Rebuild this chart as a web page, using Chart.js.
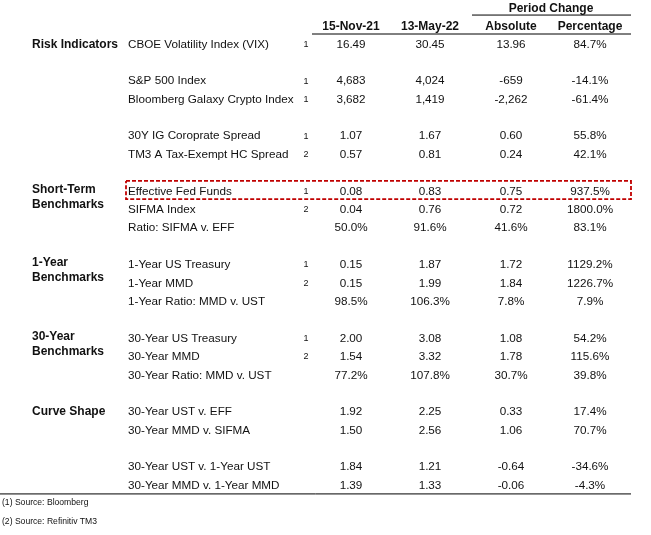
<!DOCTYPE html>
<html>
<head>
<meta charset="utf-8">
<script src="https://cdn.jsdelivr.net/npm/chart.js@4"></script>
<style>
  html, body { margin: 0; padding: 0; background: #fff; }
  canvas { display: block; }
</style>
</head>
<body>
<canvas id="c" width="651" height="535"></canvas>
<script>
// ---------- DATA ----------
const headers = ['15-Nov-21', '13-May-22', 'Absolute', 'Percentage'];
const superHeader = 'Period Change';
const groupLabels = [['Risk Indicators'], ['Short-Term', 'Benchmarks'], ['1-Year', 'Benchmarks'], ['30-Year', 'Benchmarks'], ['Curve Shape']];
const groupSlot = [0, 8, 12, 16, 20];
const metrics = [
  'CBOE Volatility Index (VIX)', 'S&P 500 Index', 'Bloomberg Galaxy Crypto Index',
  '30Y IG Coroprate Spread', 'TM3 A Tax-Exempt HC Spread',
  'Effective Fed Funds', 'SIFMA Index', 'Ratio: SIFMA v. EFF',
  '1-Year US Treasury', '1-Year MMD', '1-Year Ratio: MMD v. UST',
  '30-Year US Treasury', '30-Year MMD', '30-Year Ratio: MMD v. UST',
  '30-Year UST v. EFF', '30-Year MMD v. SIFMA',
  '30-Year UST v. 1-Year UST', '30-Year MMD v. 1-Year MMD'
];
const rowSlot = [0, 2, 3, 5, 6, 8, 9, 10, 12, 13, 14, 16, 17, 18, 20, 21, 23, 24];
const sources = ['1', '1', '1', '1', '2', '1', '2', '', '1', '2', '', '1', '2', '', '', '', '', ''];
const rowFormat = ['d2', 'int', 'int', 'd2', 'd2', 'd2', 'd2', 'pct', 'd2', 'd2', 'pct', 'd2', 'd2', 'pct', 'd2', 'd2', 'd2', 'd2'];
const nov21  = [16.49, 4683, 3682, 1.07, 0.57, 0.08, 0.04, 50.0, 0.15, 0.15, 98.5, 2.00, 1.54, 77.2, 1.92, 1.50, 1.84, 1.39];
const may22  = [30.45, 4024, 1419, 1.67, 0.81, 0.83, 0.76, 91.6, 1.87, 1.99, 106.3, 3.08, 3.32, 107.8, 2.25, 2.56, 1.21, 1.33];
const absChg = [13.96, -659, -2262, 0.60, 0.24, 0.75, 0.72, 41.6, 1.72, 1.84, 7.8, 1.08, 1.78, 30.7, 0.33, 1.06, -0.64, -0.06];
const pctChg = [84.7, -14.1, -61.4, 55.8, 42.1, 937.5, 1800.0, 83.1, 1129.2, 1226.7, 7.9, 54.2, 115.6, 39.8, 17.4, 70.7, -34.6, -4.3];
const footnotes = ['(1) Source: Bloomberg', '(2) Source: Refinitiv TM3'];
const highlightRow = 5; // Effective Fed Funds

// ---------- LAYOUT ----------
const colX = { foot: 2, group: 32, metric: 128, src: 306, c1: 351, c2: 430, c3: 511, c4: 590, superC: 551, right: 631, left: 0, boxL: 126, headLineL: 312, superLineL: 472 };
const rowY = { superHead: -1.96, head: -0.95, superLine: -1.59, headLine: -0.56, bottomLine: 24.45, foot1: 24.9, foot2: 25.95, boxTop: -0.57, boxBot: 0.42, grp1: -0.1, grp2: 0.7 };
const FONT = '"Liberation Sans", Arial, sans-serif';
const fReg = '11.7px ' + FONT, fBold = 'bold 12px ' + FONT, fSmall = '8.6px ' + FONT, fSrc = '9px ' + FONT;
const textColor = '#111';

function fmt(v, f) {
  if (f === 'int') return v.toLocaleString('en-US');
  if (f === 'pct') return v.toFixed(1) + '%';
  return v.toFixed(2);
}

const datasets = [];
function textSet(points, texts, font, align) {
  datasets.push({ data: points, texts, font, align, pointRadius: 0, pointHoverRadius: 0, showLine: false, clip: false });
}
function lineSet(points, color, width, dash) {
  datasets.push({ data: points, showLine: true, borderColor: color, borderWidth: width, borderDash: dash || [], pointRadius: 0, pointHoverRadius: 0, fill: false, clip: false, tension: 0 });
}

// headers
textSet([{ x: colX.superC, y: rowY.superHead }], [superHeader], fBold, 'center');
textSet([colX.c1, colX.c2, colX.c3, colX.c4].map(x => ({ x, y: rowY.head })), headers, fBold, 'center');
// group labels
groupLabels.forEach((g, i) => {
  if (g.length === 1) textSet([{ x: colX.group, y: groupSlot[i] }], g, fBold, 'left');
  else textSet([{ x: colX.group, y: groupSlot[i] + rowY.grp1 }, { x: colX.group, y: groupSlot[i] + rowY.grp2 }], g, fBold, 'left');
});
// metrics & sources
textSet(rowSlot.map(y => ({ x: colX.metric, y })), metrics, fReg, 'left');
textSet(rowSlot.map(y => ({ x: colX.src, y })), sources, fSrc, 'center');
// values
textSet(rowSlot.map(y => ({ x: colX.c1, y })), nov21.map((v, i) => fmt(v, rowFormat[i])), fReg, 'center');
textSet(rowSlot.map(y => ({ x: colX.c2, y })), may22.map((v, i) => fmt(v, rowFormat[i])), fReg, 'center');
textSet(rowSlot.map(y => ({ x: colX.c3, y })), absChg.map((v, i) => fmt(v, rowFormat[i])), fReg, 'center');
textSet(rowSlot.map(y => ({ x: colX.c4, y })), pctChg.map(v => fmt(v, 'pct')), fReg, 'center');
// footnotes
textSet([{ x: colX.foot, y: rowY.foot1 }, { x: colX.foot, y: rowY.foot2 }], footnotes, fSmall, 'left');
// rules
lineSet([{ x: colX.superLineL, y: rowY.superLine }, { x: colX.right, y: rowY.superLine }], '#000', 1);
lineSet([{ x: colX.headLineL, y: rowY.headLine }, { x: colX.right, y: rowY.headLine }], '#000', 1);
lineSet([{ x: colX.left, y: rowY.bottomLine }, { x: colX.right, y: rowY.bottomLine }], '#000', 1);
// highlight box
const hs = rowSlot[highlightRow];
lineSet([
  { x: colX.boxL, y: hs + rowY.boxTop }, { x: colX.right, y: hs + rowY.boxTop },
  { x: colX.right, y: hs + rowY.boxBot }, { x: colX.boxL, y: hs + rowY.boxBot },
  { x: colX.boxL, y: hs + rowY.boxTop }
], '#c00000', 1.8, [4, 2]);

const textPlugin = {
  id: 'cellText',
  afterDatasetsDraw(chart) {
    const ctx = chart.ctx;
    chart.data.datasets.forEach((ds, i) => {
      if (!ds.texts) return;
      const meta = chart.getDatasetMeta(i);
      ctx.save();
      ctx.font = ds.font;
      ctx.fillStyle = textColor;
      ctx.textAlign = ds.align;
      ctx.textBaseline = 'middle';
      meta.data.forEach((el, j) => {
        const t = ds.texts[j];
        if (t) ctx.fillText(t, el.x, el.y);
      });
      ctx.restore();
    });
  }
};

const spacing = 18.39, topY = 44.3;
new Chart(document.getElementById('c'), {
  type: 'scatter',
  data: { datasets },
  plugins: [textPlugin],
  options: {
    responsive: false,
    animation: false,
    events: [],
    layout: { padding: 0 },
    plugins: { legend: { display: false }, tooltip: { enabled: false } },
    scales: {
      x: { type: 'linear', min: 0, max: 651, display: false },
      y: { type: 'linear', reverse: true, min: -topY / spacing, max: (535 - topY) / spacing, display: false }
    }
  }
});
</script>
</body>
</html>
